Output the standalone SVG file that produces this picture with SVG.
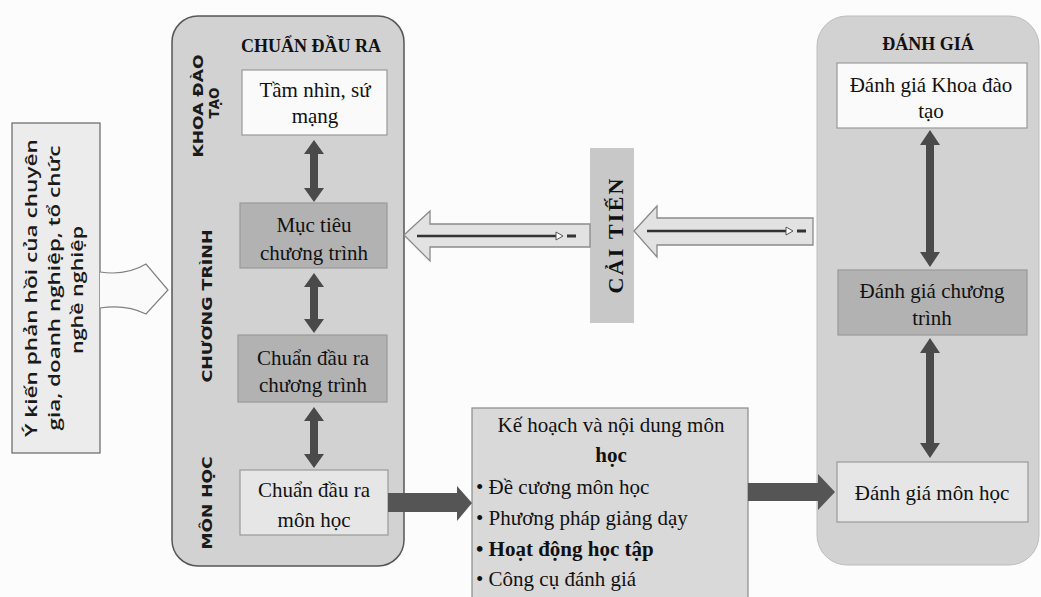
<svg xmlns="http://www.w3.org/2000/svg" width="1041" height="597" viewBox="0 0 1041 597">
<defs>
<style>
.panel{fill:#d2d2d2;}
.box{stroke:#9a9a9a;stroke-width:1.2;}
.w{fill:#fafafa;}
.d{fill:#b2b2b2;}
.l{fill:#e6e6e6;}
.t{font-family:"Liberation Serif",serif;font-size:21px;fill:#111;text-anchor:middle;}
.title{font-family:"Liberation Serif",serif;font-size:18px;font-weight:bold;fill:#111;text-anchor:middle;}
.side{font-family:"DejaVu Sans",sans-serif;font-size:13.5px;font-weight:bold;fill:#1a1a1a;text-anchor:middle;}
.fb{font-family:"Open Sans",sans-serif;font-size:17px;font-weight:600;fill:#1a1a1a;text-anchor:middle;}
.li{font-family:"Liberation Serif",serif;font-size:21px;fill:#111;}
.dbl{fill:#4a4a4a;}
.solid{fill:#555;}
.hollow{fill:#e2e2e2;stroke:#8a8a8a;stroke-width:1.3;}
</style>
</defs>
<rect width="1041" height="597" fill="#fcfcfc"/>

<g id="panel-chuan-dau-ra">
<rect class="panel" x="172" y="16" width="232" height="550" rx="26" stroke="#555" stroke-width="1.5"/>
<text class="title" x="311" y="52">CHUẨN ĐẦU RA</text>
<text class="side" transform="translate(203,106) rotate(-90)" textLength="103" lengthAdjust="spacingAndGlyphs">KHOA ĐÀO</text>
<text class="side" transform="translate(219,103) rotate(-90)">TẠO</text>
<text class="side" transform="translate(212,306) rotate(-90)" textLength="153" lengthAdjust="spacingAndGlyphs">CHƯƠNG TRÌNH</text>
<text class="side" transform="translate(212,503) rotate(-90)" textLength="93" lengthAdjust="spacingAndGlyphs">MÔN HỌC</text>
</g>

<g id="panel-danh-gia">
<rect class="panel" x="817" y="16" width="222" height="549" rx="30" stroke="#bdbdbd" stroke-width="1"/>
<text class="title" x="928" y="50">ĐÁNH GIÁ</text>
</g>

<g id="node-tam-nhin">
<rect class="box w" x="242" y="70" width="145" height="65"/>
<text class="t" x="315" y="97">Tầm nhìn, sứ</text>
<text class="t" x="315" y="123">mạng</text>
</g>
<g id="node-muc-tieu">
<rect class="box d" x="240" y="203" width="147" height="65"/>
<text class="t" x="314" y="232">Mục tiêu</text>
<text class="t" x="314" y="260">chương trình</text>
</g>
<g id="node-cdr-ct">
<rect class="box d" x="238" y="335" width="149" height="67"/>
<text class="t" x="313" y="365">Chuẩn đầu ra</text>
<text class="t" x="313" y="392">chương trình</text>
</g>
<g id="node-cdr-mh">
<rect class="box l" x="240" y="470" width="148" height="65"/>
<text class="t" x="314" y="497">Chuẩn đầu ra</text>
<text class="t" x="314" y="527">môn học</text>
</g>

<g id="node-dg-khoa">
<rect class="box w" x="837" y="63" width="190" height="65"/>
<text class="t" x="931" y="92">Đánh giá Khoa đào</text>
<text class="t" x="931" y="118">tạo</text>
</g>
<g id="node-dg-ct">
<rect class="box d" x="838" y="270" width="189" height="65"/>
<text class="t" x="932" y="298">Đánh giá chương</text>
<text class="t" x="932" y="325">trình</text>
</g>
<g id="node-dg-mh">
<rect class="box l" x="837" y="462" width="191" height="60"/>
<text class="t" x="932" y="500">Đánh giá môn học</text>
</g>

<g id="node-ke-hoach">
<rect x="472" y="408" width="276" height="190" fill="#d9d9d9" stroke="#8a8a8a" stroke-width="1.2"/>
<text class="t" x="611" y="432">Kế hoạch và nội dung môn</text>
<text class="t" x="611" y="462" font-weight="bold">học</text>
<text class="li" x="476" y="494">• Đề cương môn học</text>
<text class="li" x="476" y="525">• Phương pháp giảng dạy</text>
<text class="li" x="476" y="556" font-weight="bold">• Hoạt động học tập</text>
<text class="li" x="476" y="586">• Công cụ đánh giá</text>
</g>

<g id="node-y-kien">
<rect x="12" y="123" width="88" height="330" fill="#ececec" stroke="#666" stroke-width="1.2"/>
<text class="fb" transform="translate(37,288) rotate(-90)" textLength="298" lengthAdjust="spacingAndGlyphs">Ý kiến phản hồi của chuyên</text>
<text class="fb" transform="translate(60,288) rotate(-90)" textLength="285" lengthAdjust="spacingAndGlyphs">gia, doanh nghiệp, tổ chức</text>
<text class="fb" transform="translate(83,290) rotate(-90)" textLength="128" lengthAdjust="spacingAndGlyphs">nghề nghiệp</text>
</g>

<g id="node-cai-tien">
<rect x="590" y="148" width="44" height="175" fill="#c8c8c8"/>
<text transform="translate(623,236) rotate(-90)" font-family="Liberation Serif, serif" font-size="22" font-weight="bold" fill="#111" text-anchor="middle" textLength="115" lengthAdjust="spacing">CẢI TIẾN</text>
</g>

<g id="connectors">
<path d="M100,272 Q126,276 146,264 L168,290 L146,314 Q126,304 100,308" fill="#fafafa" stroke="#808080" stroke-width="1.2"/>
<path class="dbl" d="M314,140 L324,154 L318,154 L318,188 L324,188 L314,202 L304,188 L310,188 L310,154 L304,154 Z"/>
<path class="dbl" d="M314,273 L324,287 L318,287 L318,319 L324,319 L314,333 L304,319 L310,319 L310,287 L304,287 Z"/>
<path class="dbl" d="M314,407 L324,421 L318,421 L318,454 L324,454 L314,468 L304,454 L310,454 L310,421 L304,421 Z"/>
<path class="dbl" d="M930,130 L940,145 L934,145 L934,252 L940,252 L930,267 L920,252 L926,252 L926,145 L920,145 Z"/>
<path class="dbl" d="M930,338 L940,353 L934,353 L934,443 L940,443 L930,458 L920,443 L926,443 L926,353 L920,353 Z"/>
<path class="solid" d="M388,493 L457,493 L457,486 L472,503 L457,521 L457,512 L388,512 Z"/>
<path class="solid" d="M748,483 L818,483 L818,474 L835,492 L818,510 L818,501 L748,501 Z"/>
<path class="hollow" d="M404,235 L430,211 L430,224 L590,224 L590,247 L430,247 L430,261 Z"/>
<line x1="417" y1="236" x2="557" y2="236" stroke="#333" stroke-width="2.5"/>
<path d="M556,232 L563,236 L556,240 Z" fill="#fff" stroke="#555" stroke-width="1"/>
<line x1="567" y1="236" x2="576" y2="236" stroke="#333" stroke-width="3"/>
<path class="hollow" d="M634,231 L657,206 L657,218 L813,218 L813,245 L657,245 L657,257 Z"/>
<line x1="647" y1="231" x2="787" y2="231" stroke="#333" stroke-width="2.5"/>
<path d="M786,227 L793,231 L786,235 Z" fill="#fff" stroke="#555" stroke-width="1"/>
<line x1="797" y1="231" x2="806" y2="231" stroke="#333" stroke-width="3"/>
</g>
</svg>
